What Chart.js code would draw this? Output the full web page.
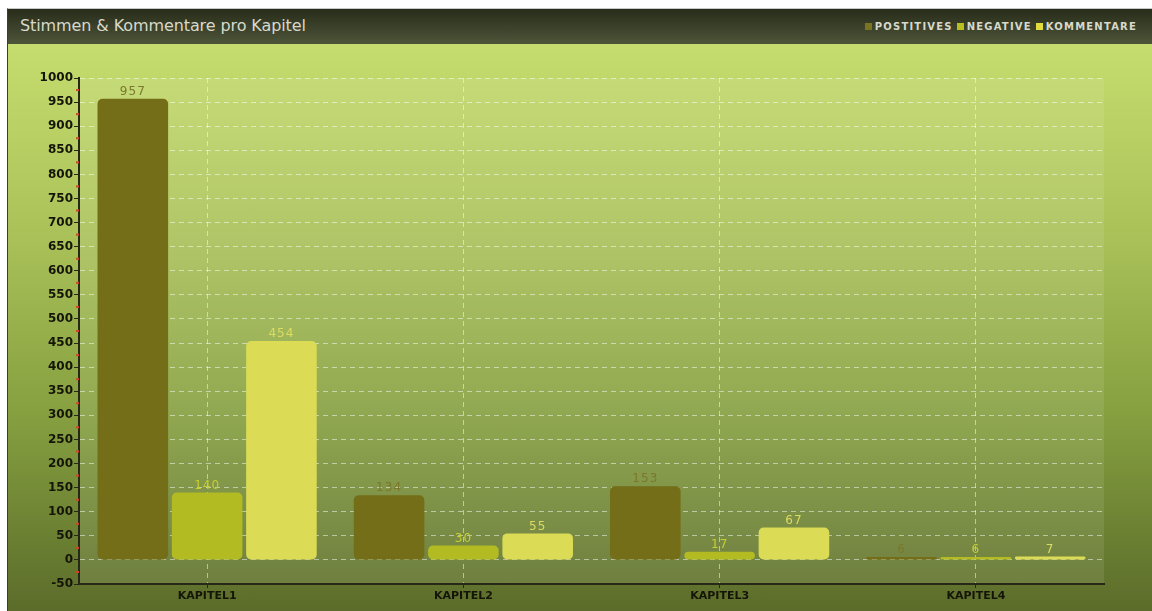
<!DOCTYPE html>
<html>
<head>
<meta charset="utf-8">
<script src="https://cdn.jsdelivr.net/npm/chart.js@4/dist/chart.umd.min.js"></script>
<style>
    body { margin: 0; background: #fff; }
    #frame {
        position: absolute; left: 7px; top: 8px; width: 1145px; height: 603px;
        border-left: 1px solid #3a3e2a; border-top: 1px solid #c8c8c8;
    }
    #header {
        height: 35px;
        background: linear-gradient(#282c1a, #4d5539);
        position: relative;
    }
    #title {
        position: absolute; left: 12px; top: 7px;
        font-family: "DejaVu Sans", sans-serif; font-size: 16px;
        color: #d7d9cc; letter-spacing: -0.1px;
    }
    #legend {
        position: absolute; right: 16px; top: 12px;
        font-family: "DejaVu Sans", sans-serif; font-weight: bold; font-size: 10px;
        color: #d7d9cc; letter-spacing: 1.2px;
    }
    #legend span.sw {
        display: inline-block; width: 7px; height: 7px; margin: 0 3px 0 4px;
    }
    #plot {
        position: relative; width: 1145px; height: 567px;
        background: linear-gradient(#c5dd6e 0%, #a9c058 35%, #86a040 65%, #5b6c2a 100%);
    }
</style>
</head>
<body>
<div id="frame">
    <div id="header">
        <div id="title">Stimmen &amp; Kommentare pro Kapitel</div>
        <div id="legend"></div>
    </div>
    <div id="plot"><canvas id="chart"></canvas></div>
</div>
<script>
var categories = ["KAPITEL1", "KAPITEL2", "KAPITEL3", "KAPITEL4"];
var seriesNames = ["POSTITIVES", "NEGATIVE", "KOMMENTARE"];
var positives = [957, 134, 153, 6];
var negative = [140, 30, 17, 6];
var kommentare = [454, 55, 67, 7];

var barColors = ["#746e18", "#b2bb22", "#dbdb55"];
var labelColors = ["#7c772c", "#c6ce34", "#dcdc62"];
var legendColors = ["#7a7420", "#b8c020", "#e0dc40"];

// legend in the header
var legendHtml = "";
seriesNames.forEach(function (name, i) {
    legendHtml += '<span class="sw" style="background:' + legendColors[i] + '"></span>' + name;
});
document.getElementById("legend").innerHTML = legendHtml;

var plotShade = {
    id: "plotShade",
    beforeDraw: function (chart) {
        var a = chart.chartArea, ctx = chart.ctx;
        ctx.save();
        ctx.fillStyle = "rgba(255,255,255,0.09)";
        ctx.fillRect(a.left, a.top, a.right - a.left, a.bottom - a.top);
        ctx.restore();
    }
};

// small red marks between the y ticks
var minorTicks = {
    id: "minorTicks",
    afterDraw: function (chart) {
        var y = chart.scales.y, ctx = chart.ctx;
        ctx.save();
        ctx.strokeStyle = "#d2452a";
        ctx.lineWidth = 2;
        for (var v = -25; v < 1000; v += 50) {
            var py = y.getPixelForValue(v);
            ctx.beginPath();
            ctx.moveTo(y.right - 3, py);
            ctx.lineTo(y.right, py);
            ctx.stroke();
        }
        ctx.restore();
    }
};

var valueLabels = {
    id: "valueLabels",
    afterDatasetsDraw: function (chart) {
        var ctx = chart.ctx;
        ctx.save();
        ctx.font = "12px 'DejaVu Sans'";
        ctx.letterSpacing = "1px";
        ctx.textAlign = "center";
        ctx.textBaseline = "bottom";
        chart.data.datasets.forEach(function (ds, i) {
            chart.getDatasetMeta(i).data.forEach(function (bar, j) {
                ctx.fillStyle = labelColors[i];
                ctx.fillText(String(ds.data[j]), bar.x, bar.y - 1);
            });
        });
        ctx.restore();
    }
};

new Chart(document.getElementById("chart"), {
    type: "bar",
    data: {
        labels: categories,
        datasets: [
            { label: seriesNames[0], data: positives, backgroundColor: barColors[0] },
            { label: seriesNames[1], data: negative, backgroundColor: barColors[1] },
            { label: seriesNames[2], data: kommentare, backgroundColor: barColors[2] }
        ]
    },
    options: {
        responsive: true,
        maintainAspectRatio: false,
        animation: false,
        layout: { padding: { top: 34, right: 49, left: 0, bottom: 0 } },
        datasets: {
            bar: {
                categoryPercentage: 0.87,
                barPercentage: 0.95,
                borderRadius: 5,
                borderSkipped: false,
                borderWidth: 0
            }
        },
        plugins: {
            legend: { display: false },
            title: { display: false },
            tooltip: { enabled: false }
        },
        scales: {
            x: {
                afterFit: function (s) { s.height = 27; },
                grid: {
                    offset: false,
                    color: "rgba(255,255,255,0.5)",
                    tickColor: "#262818",
                    tickLength: 4
                },
                border: { color: "#262818", width: 2, dash: [5, 4] },
                ticks: {
                    color: "#141408",
                    padding: 2,
                    font: { family: "DejaVu Sans", size: 11, weight: "bold" }
                }
            },
            y: {
                min: -50,
                max: 1000,
                afterFit: function (s) { s.width = 71; },
                grid: {
                    color: "rgba(255,255,255,0.5)",
                    tickColor: "#262818",
                    tickLength: 5
                },
                border: { color: "#262818", width: 2, dash: [5, 4] },
                ticks: {
                    stepSize: 50,
                    color: "#141408",
                    padding: 1,
                    font: { family: "DejaVu Sans", size: 12, weight: "bold" },
                    callback: function (v) { return String(v); }
                }
            }
        }
    },
    plugins: [plotShade, minorTicks, valueLabels]
});
</script>
</body>
</html>
